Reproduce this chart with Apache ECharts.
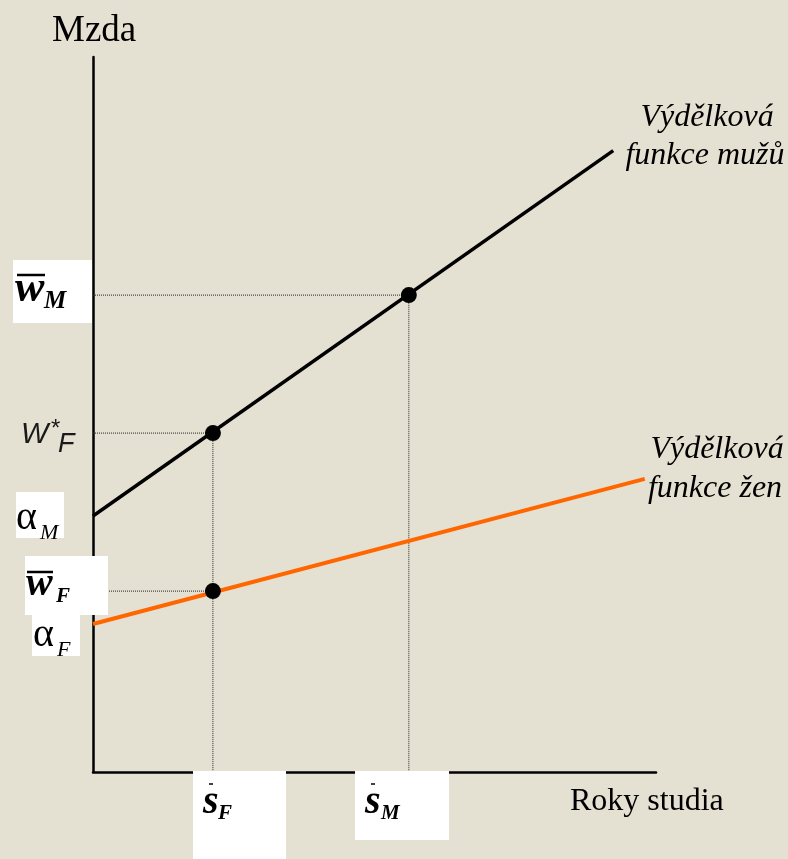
<!DOCTYPE html>
<html>
<head>
<meta charset="utf-8">
<script src="https://cdn.jsdelivr.net/npm/echarts@6/dist/echarts.min.js"></script>
<style>
  html, body { margin: 0; padding: 0; background: #e5e1d2; }
  #main { width: 788px; height: 859px; }
</style>
</head>
<body>
<div id="main"></div>
<script>
// earnings functions (x = years of study, y = wage), arbitrary units
var menLine = [[0, 35.8], [92.4, 86.9]];
var womenLine = [[0, 20.7], [98, 41.0]];
// average schooling and wages
var sF = 21.3, sM = 56.1;
var wMbar = 66.7, wFstar = 47.4, wFbar = 25.3;
var points = [[sF, wFstar], [sM, wMbar], [sF, wFbar]];

var serif = '"Liberation Serif", "Times New Roman", serif';
var sans = '"Liberation Sans", Arial, sans-serif';

function dotted(data) {
  return {
    type: 'line',
    data: data,
    symbol: 'none',
    silent: true,
    z: 1,
    lineStyle: { color: '#222', width: 1, type: [1, 1] }
  };
}

// white label box
function box(x, y, w, h) {
  return { type: 'rect', shape: { x: x, y: y, width: w, height: h }, style: { fill: '#fff' }, z: 50 };
}
// text placed roughly by its baseline
function txt(text, x, base, style, size, family, color, align) {
  return {
    type: 'text', z: 60,
    style: {
      text: text, x: x, y: base - 0.27 * size,
      font: style + ' ' + size + 'px ' + (family || serif),
      fill: color || '#000', align: align || 'left', verticalAlign: 'middle'
    }
  };
}
function bar(x1, x2, y, w) {
  return { type: 'line', z: 60, shape: { x1: x1, y1: y, x2: x2, y2: y }, style: { stroke: '#000', lineWidth: w || 2 } };
}

var chart = echarts.init(document.getElementById('main'));
var option = {
  backgroundColor: '#e5e1d2',
  animation: false,
  grid: { left: 93, top: 57, right: 132, bottom: 87 },
  xAxis: {
    type: 'value', min: 0, max: 100,
    axisLine: { lineStyle: { color: '#000', width: 2.5 } },
    axisTick: { show: false }, axisLabel: { show: false }, splitLine: { show: false }
  },
  yAxis: {
    type: 'value', min: 0, max: 100,
    axisLine: { lineStyle: { color: '#000', width: 2.5 } },
    axisTick: { show: false }, axisLabel: { show: false }, splitLine: { show: false }
  },
  series: [
    dotted([[0, wMbar], [sM, wMbar], [sM, 0]]),
    dotted([[0, wFstar], [sF, wFstar], [sF, 0]]),
    dotted([[0, wFbar], [sF, wFbar]]),
    {
      type: 'line', data: menLine, symbol: 'none', z: 3,
      lineStyle: { color: '#000', width: 3.5 }
    },
    {
      type: 'line', data: womenLine, symbol: 'none', z: 3,
      lineStyle: { color: '#ff6600', width: 4 }
    },
    {
      type: 'scatter', data: points, symbolSize: 16, z: 5,
      itemStyle: { color: '#000', opacity: 1 }
    }
  ],
  graphic: [
    txt('Mzda', 52, 41, '', 37),
    txt('Roky studia', 570, 810, '', 32),
    txt('Výdělková', 707, 126, 'italic', 32, serif, '#000', 'center'),
    txt('funkce mužů', 705, 164, 'italic', 32, serif, '#000', 'center'),
    txt('Výdělková', 717, 458, 'italic', 32, serif, '#000', 'center'),
    txt('funkce žen', 715, 497, 'italic', 32, serif, '#000', 'center'),

    // w-bar M
    box(13, 260, 79, 63),
    txt('w', 15, 302, 'bold italic', 44),
    txt('M', 44, 308, 'bold italic', 25),
    bar(17, 45, 275, 2.5),

    // W*F
    txt('W', 21, 443, 'italic', 29, sans, '#1a1a1a'),
    txt('*', 51, 436, '', 24, sans, '#1a1a1a'),
    txt('F', 58, 452, 'italic', 27, sans, '#1a1a1a'),

    // alpha M
    box(16, 492, 48, 46),
    txt('α', 16, 529, '', 40),
    txt('M', 40, 539, 'italic', 22),

    // w-bar F
    box(25, 556, 83, 59),
    txt('w', 26, 595, 'bold italic', 40),
    txt('F', 56, 602, 'bold italic', 21),
    bar(27, 53, 572, 2.5),

    // alpha F
    box(32, 615, 48, 41),
    txt('α', 33, 646, '', 40),
    txt('F', 57, 656, 'italic', 22),

    // s-bar F
    box(193, 771, 93, 88),
    txt('s', 203, 813, 'bold italic', 40),
    txt('F', 218, 819, 'bold italic', 21),
    bar(209, 213, 784, 1.5),

    // s-bar M
    box(355, 771, 94, 69),
    txt('s', 365, 813, 'bold italic', 40),
    txt('M', 381, 819, 'bold italic', 21),
    bar(371, 375, 784, 1.5)
  ]
};
chart.setOption(option);
</script>
</body>
</html>
